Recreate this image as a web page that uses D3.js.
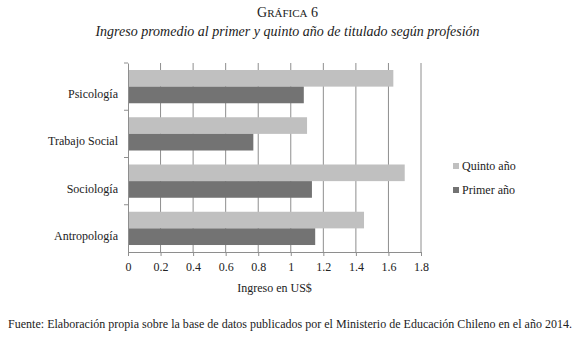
<!DOCTYPE html>
<html>
<head>
<meta charset="utf-8">
<script src="https://cdn.jsdelivr.net/npm/d3@7"></script>
<style>
  body { margin: 0; background: #fff; }
  text { font-family: "Liberation Serif", "DejaVu Serif", serif; fill: #222; }
</style>
</head>
<body>
<svg id="chart"></svg>
<script>
// data
var categories = ["Psicología", "Trabajo Social", "Sociología", "Antropología"];
var quintoAno = [1.63, 1.10, 1.70, 1.45];
var primerAno = [1.08, 0.77, 1.13, 1.15];
var seriesNames = ["Quinto año", "Primer año"];
var tickValues = [0, 0.2, 0.4, 0.6, 0.8, 1, 1.2, 1.4, 1.6, 1.8];

var width = 575, height = 337;
var margin = {top: 63, left: 128, right: 154, bottom: 85};

const svg = d3.select("#chart").attr("width", width).attr("height", height);

var x = d3.scaleLinear().domain([0, 1.8]).range([margin.left, width - margin.right]);
var y = d3.scaleBand().domain(categories).range([margin.top, height - margin.bottom]);
var sub = d3.scaleBand().domain(seriesNames).range([0, y.bandwidth()]).paddingOuter(0.42).paddingInner(0);
var colors = d3.scaleOrdinal().domain(seriesNames).range(["#c0c0c0", "#737373"]);

// title
svg.append("text")
  .attr("x", width / 2).attr("y", 17)
  .attr("text-anchor", "middle")
  .style("font-size", "14px")
  .html('G<tspan style="font-size:11px">RÁFICA</tspan> 6');
svg.append("text")
  .attr("x", width / 2).attr("y", 36)
  .attr("text-anchor", "middle")
  .style("font-size", "14px").style("font-style", "italic")
  .text("Ingreso promedio al primer y quinto año de titulado según profesión");

// grid lines
svg.append("g")
  .selectAll("line")
  .data(tickValues.slice(1))
  .join("line")
    .attr("x1", d => x(d)).attr("x2", d => x(d))
    .attr("y1", margin.top).attr("y2", height - margin.bottom)
    .attr("stroke", "#8e8e8e").attr("stroke-width", 1);

// bars
var rows = categories.map((c, i) => ({cat: c, values: [
  {name: seriesNames[0], v: quintoAno[i]},
  {name: seriesNames[1], v: primerAno[i]}
]}));

svg.append("g")
  .selectAll("g")
  .data(rows)
  .join("g")
    .attr("transform", d => "translate(0," + y(d.cat) + ")")
  .selectAll("rect")
  .data(d => d.values)
  .join("rect")
    .attr("x", x(0))
    .attr("y", d => sub(d.name))
    .attr("width", d => x(d.v) - x(0))
    .attr("height", sub.bandwidth())
    .attr("fill", d => colors(d.name));

// x axis
var xAxis = svg.append("g")
  .attr("transform", "translate(0," + (height - margin.bottom) + ")")
  .call(d3.axisBottom(x).tickValues(tickValues).tickSize(4).tickFormat(d => String(d)));
xAxis.select(".domain").attr("stroke", "#8e8e8e");
xAxis.selectAll(".tick line").attr("stroke", "#8e8e8e");
xAxis.selectAll(".tick text").attr("y", 10).style("font-size", "12px").style("font-family", '"Liberation Serif", serif').attr("fill", "#222");

// y axis
var yAxis = svg.append("g")
  .attr("transform", "translate(" + margin.left + ",0)")
  .call(d3.axisLeft(y).tickSize(0).tickPadding(10));
yAxis.select(".domain").attr("stroke", "#8e8e8e");
yAxis.selectAll(".tick text").attr("dy", "0.95em").style("font-size", "12px").style("font-family", '"Liberation Serif", serif').attr("fill", "#222");
// small ticks between categories
svg.append("g")
  .selectAll("line")
  .data(categories)
  .join("line")
    .attr("x1", margin.left - 4).attr("x2", margin.left)
    .attr("y1", d => y(d)).attr("y2", d => y(d))
    .attr("stroke", "#8e8e8e");

// axis title
svg.append("text")
  .attr("x", (x(0) + x(1.8)) / 2).attr("y", 292)
  .attr("text-anchor", "middle")
  .style("font-size", "12px")
  .text("Ingreso en US$");

// legend
var legend = svg.append("g")
  .selectAll("g")
  .data(seriesNames)
  .join("g")
    .attr("transform", (d, i) => "translate(453," + (163 + i * 24) + ")");
legend.append("rect").attr("width", 6).attr("height", 6).attr("fill", d => colors(d));
legend.append("text").attr("x", 9).attr("y", 7).style("font-size", "12px").text(d => d);

// source
svg.append("text")
  .attr("x", 8).attr("y", 328)
  .attr("textLength", 564)
  .style("font-size", "12px")
  .text("Fuente: Elaboración propia sobre la base de datos publicados por el Ministerio de Educación Chileno en el año 2014.");
</script>
</body>
</html>
